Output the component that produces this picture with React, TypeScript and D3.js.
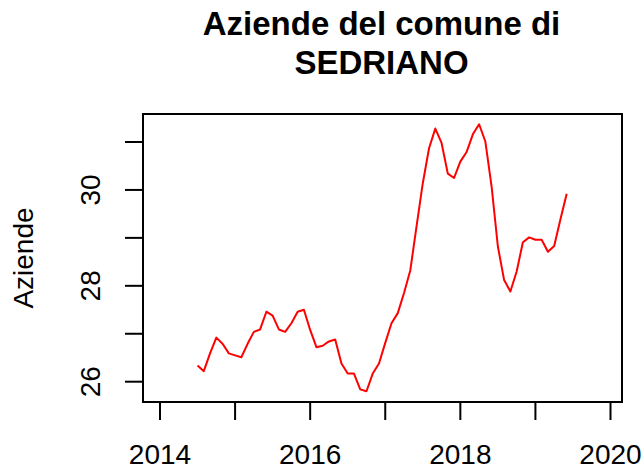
import * as d3 from 'd3';

// monthly series, July 2014 .. June 2019
const startYear = 2014;
const startMonth = 7;
const values = [
  26.34, 26.22, 26.59, 26.92, 26.79, 26.59,
  26.55, 26.51, 26.79, 27.04, 27.09, 27.46, 27.38, 27.09, 27.04, 27.22, 27.46, 27.5,
  27.08, 26.72, 26.75, 26.84, 26.88, 26.38, 26.17, 26.17, 25.84, 25.8, 26.17, 26.38,
  26.81, 27.22, 27.43, 27.85, 28.32, 29.24, 30.14, 30.87, 31.28, 30.98, 30.34, 30.25,
  30.59, 30.79, 31.16, 31.37, 31.01, 30.07, 28.82, 28.12, 27.88, 28.3, 28.91, 29.01,
  28.96, 28.96, 28.71, 28.83, 29.39, 29.92,
];
const xTicks = [2014, 2015, 2016, 2017, 2018, 2019, 2020];
const xLabels = ['2014', '', '2016', '', '2018', '', '2020'];
const yTicks = [26, 27, 28, 29, 30, 31];
const yLabels = ['26', '', '28', '', '30', ''];
const titleLines = ['Aziende del comune di', 'SEDRIANO'];
const yTitle = 'Aziende';

const W = 644;
const H = 469;
const box = { left: 143, right: 622, top: 114, bottom: 402 };
const font = '"Liberation Sans", Arial, sans-serif';

export default function App() {
  const x = d3.scaleLinear().domain([2014, 2020]).range([160, 610.5]);
  const y = d3.scaleLinear().domain([26, 31]).range([381.7, 142]);

  const pts = values.map((v, i) => ({
    t: startYear + (startMonth - 1 + i) / 12,
    v,
  }));
  const line = d3
    .line<{ t: number; v: number }>()
    .x(d => x(d.t))
    .y(d => y(d.v));

  const cx = (box.left + box.right) / 2;
  const cy = (box.top + box.bottom) / 2;

  return (
    <svg
      width={W}
      height={H}
      style={{ position: 'absolute', left: 0, top: 0, background: '#fff' }}
      fontFamily={font}
    >
      {titleLines.map((t, i) => (
        <text
          key={t}
          x={cx - 1}
          y={35 + i * 39}
          textAnchor="middle"
          fontWeight="bold"
          fontSize={33}
          fill="#000"
        >
          {t}
        </text>
      ))}

      <path d={line(pts) ?? ''} fill="none" stroke="#ff0000" strokeWidth={2} strokeLinejoin="round" />

      <rect
        x={box.left}
        y={box.top}
        width={box.right - box.left}
        height={box.bottom - box.top}
        fill="none"
        stroke="#000"
        strokeWidth={2}
      />

      {/* x axis */}
      {xTicks.map((t, i) => (
        <g key={t}>
          <line x1={x(t)} x2={x(t)} y1={box.bottom} y2={420} stroke="#000" strokeWidth={2} />
          {xLabels[i] && (
            <text x={x(t)} y={464} textAnchor="middle" fontSize={28} fill="#000">
              {xLabels[i]}
            </text>
          )}
        </g>
      ))}

      {/* y axis */}
      {yTicks.map((t, i) => (
        <g key={t}>
          <line x1={125} x2={box.left} y1={y(t)} y2={y(t)} stroke="#000" strokeWidth={2} />
          {yLabels[i] && (
            <text
              transform={`translate(100,${y(t)}) rotate(-90)`}
              textAnchor="middle"
              fontSize={28}
              fill="#000"
            >
              {yLabels[i]}
            </text>
          )}
        </g>
      ))}

      <text
        transform={`translate(33,${cy}) rotate(-90)`}
        textAnchor="middle"
        fontSize={28}
        fill="#000"
      >
        {yTitle}
      </text>
    </svg>
  );
}
